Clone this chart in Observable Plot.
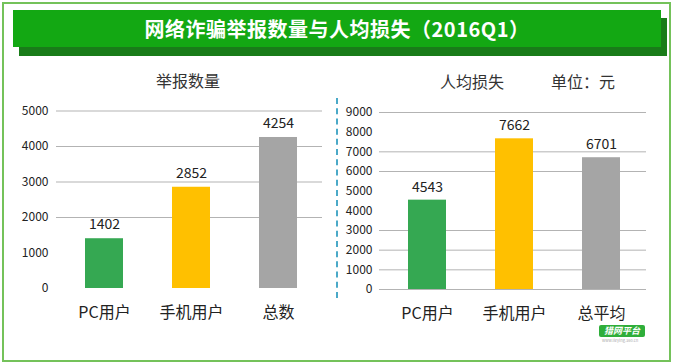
<!DOCTYPE html>
<html>
<head>
<meta charset="utf-8">
<script src="https://cdn.jsdelivr.net/npm/d3@7"></script>
<script src="https://cdn.jsdelivr.net/npm/@observablehq/plot@0.6"></script>
<style>
  html, body { margin: 0; padding: 0; background: #fff; }
  #root { position: relative; width: 675px; height: 364px; overflow: hidden; background: #fff;
          font-family: "Noto Sans CJK SC", "Noto Sans", sans-serif; }
  .abs { position: absolute; }
  .frame { left: 2px; top: 2px; width: 669px; height: 360px; box-sizing: border-box; border: 2px solid #74c25a; }
  .shadow { left: 19px; top: 18px; width: 648px; height: 38px; background: #197c19; }
  .banner { left: 13px; top: 10px; width: 648px; height: 37px; background: #13a813; color: #fff;
            font-weight: bold; font-size: 20px; line-height: 37px; text-align: center; letter-spacing: 0.5px; }
  .ptitle { font-size: 16px; color: #333; line-height: 20px; white-space: nowrap; transform: translateX(-50%); }
  .sep { left: 336px; top: 98px; height: 200px; width: 0; border-left: 2px dashed #4aa9c8; }
  .badge { left: 599px; top: 325px; width: 46px; height: 12px; background: #2fae3a; color: #fff; font-size: 9px;
           font-weight: bold; font-style: italic; line-height: 12px; text-align: center; border-radius: 2px; }
  .badge2 { left: 602px; top: 338px; font-size: 4px; line-height: 5px; color: #aaa; white-space: nowrap; }
</style>
</head>
<body>
<div id="root">
  <div class="abs frame"></div>
  <div class="abs shadow"></div>
  <div class="abs banner" id="banner"></div>
  <div class="abs ptitle" id="t1" style="left:188px; top:70px;"></div>
  <div class="abs ptitle" id="t2" style="left:472px; top:71px;"></div>
  <div class="abs ptitle" id="t3" style="left:583px; top:71px;"></div>
  <div class="abs sep"></div>
  <div id="left" class="abs" style="left:0px; top:60px;"></div>
  <div id="right" class="abs" style="left:335px; top:60px;"></div>
  <div class="abs badge" id="badge"></div>
  <div class="abs badge2">www.lieying.360.cn</div>
</div>
<script>
// ---- data ----
const mainTitle = "网络诈骗举报数量与人均损失（2016Q1）";
const leftTitle = "举报数量";
const rightTitle = "人均损失";
const unitLabel = "单位：元";
const badgeText = "猎网平台";

const leftCategories = ["PC用户", "手机用户", "总数"];
const leftValues = [1402, 2852, 4254];
const rightCategories = ["PC用户", "手机用户", "总平均"];
const rightValues = [4543, 7662, 6701];
const barColors = ["#35a852", "#ffc000", "#a5a5a5"];

const leftTicks = [0, 1000, 2000, 3000, 4000, 5000];
const leftGridValues = [2000, 3000, 4000, 5000];
const rightTicks = [0, 1000, 2000, 3000, 4000, 5000, 6000, 7000, 8000, 9000];
const rightGridValues = [0, 1000, 2000, 3000, 6000, 7000, 9000];

document.getElementById("banner").textContent = mainTitle;
document.getElementById("t1").textContent = leftTitle;
document.getElementById("t2").textContent = rightTitle;
document.getElementById("t3").textContent = unitLabel;
document.getElementById("badge").textContent = badgeText;

const font = "'Noto Sans CJK SC', 'Noto Sans', sans-serif";

function panel({cats, values, ticks, grid, yMax, width, height, mL, mR, mT, mB, tickPad, dy}) {
  const data = cats.map((c, i) => ({cat: c, value: values[i], color: barColors[i]}));
  return Plot.plot({
    width, height,
    marginLeft: mL, marginRight: mR, marginTop: mT, marginBottom: mB,
    style: {fontFamily: font, background: "transparent", overflow: "visible", color: "#222"},
    x: {domain: cats, paddingInner: 0.56, paddingOuter: 0.28, label: null},
    y: {domain: [0, yMax], label: null},
    marks: [
      Plot.ruleY(grid, {stroke: "#b3b3b3", strokeWidth: 1, insetLeft: -4}),
      Plot.barY(data, {x: "cat", y: "value", fill: "color"}),
      Plot.text(data, {x: "cat", y: "value", text: d => String(d.value), dy: dy, fontSize: 14, fill: "#222"}),
      Plot.axisY({ticks: ticks, tickSize: 0, tickPadding: tickPad, fontSize: 12, label: null, tickFormat: d => String(d)}),
      Plot.axisX({tickSize: 0, tickPadding: 18, fontSize: 16, label: null})
    ]
  });
}

document.getElementById("left").append(panel({
  cats: leftCategories, values: leftValues, ticks: leftTicks, grid: leftGridValues, yMax: 5000,
  width: 335, height: 275, mL: 60, mR: 13, mT: 50.5, mB: 47, tickPad: 12, dy: -14
}));
document.getElementById("right").append(panel({
  cats: rightCategories, values: rightValues, ticks: rightTicks, grid: rightGridValues, yMax: 9000,
  width: 340, height: 275, mL: 48, mR: 29, mT: 52, mB: 46, tickPad: 11, dy: -13
}));
</script>
</body>
</html>
